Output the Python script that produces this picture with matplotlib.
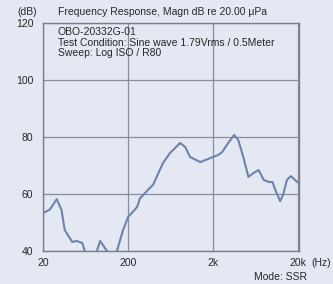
import matplotlib
matplotlib.use("Agg")
import matplotlib.pyplot as plt
import numpy as np

freq_hz = [20, 24, 29, 33, 36, 44, 50, 58, 62, 75, 86, 94, 113, 130, 148, 175, 200,
           255, 277, 361, 394, 516, 624, 820, 940, 1073, 1411, 1855, 2000, 2305,
           2554, 3010, 3537, 3950, 4534, 5210, 5987, 6880, 7906, 9085, 10000,
           10800, 12290, 13300, 14770, 16400, 19600, 20500]
level_db = [53.3, 54.5, 58.2, 54.4, 47.4, 43.2, 43.5, 42.8, 40.0, 37.0, 40.0, 43.5, 40.0, 37.0, 40.0, 47.4, 51.9,
            55.4, 58.5, 62.1, 63.2, 70.9, 74.4, 77.9, 76.5, 73.0, 71.2, 72.6, 73.0, 73.7,
            74.7, 77.9, 80.7, 79.0, 73.0, 66.0, 67.4, 68.4, 64.9, 64.2, 64.2,
            61.4, 57.5, 59.6, 64.9, 66.3, 64.2, 63.9]

y_ticks = [40, 60, 80, 100, 120]
x_ticks = [20, 200, 2000, 20000]
x_tick_labels = ["20", "200", "2k", "20k"]

title = "Frequency Response, Magn dB re 20.00 \u03bcPa"
info_lines = ["OBO-20332G-01",
              "Test Condition: Sine wave 1.79Vrms / 0.5Meter",
              "Sweep: Log ISO / R80"]

bg = "#e4e8f2"
plt.rcParams["font.family"] = ["Liberation Sans", "DejaVu Sans"]

W, H = 333, 284
fig = plt.figure(figsize=(W / 100, H / 100), dpi=100, facecolor=bg)
ax = fig.add_axes([43 / W, 1 - 251 / H, (299 - 43) / W, (251 - 23) / H], facecolor=bg)

ax.plot(freq_hz, level_db, color="#6d84aa", lw=1.5, solid_joinstyle="round")
ax.set_xscale("log")
ax.set_xlim(20, 20500)
ax.set_ylim(40, 120)
ax.set_xticks(x_ticks)
ax.set_xticklabels(x_tick_labels)
ax.set_yticks(y_ticks)
ax.xaxis.set_minor_locator(matplotlib.ticker.NullLocator())
tc = "#262626"
ax.tick_params(length=0, labelsize=7.5, colors=tc, pad=5)
ax.tick_params(axis="y", pad=7)
ax.grid(True, color="#878d9a", lw=0.9)
for s in ax.spines.values():
    s.set_color("#777d8a")
    s.set_linewidth(1.0)

fs = 7.5
fig.text(17 / W, 1 - 12 / H, "(dB)", fontsize=fs, color=tc, va="center", ha="left")
fig.text(58 / W, 1 - 12 / H, title, fontsize=fs, color=tc, va="center", ha="left")
for i, line in enumerate(info_lines):
    fig.text(58 / W, 1 - (32 + i * 10.5) / H, line, fontsize=fs, color=tc, va="center", ha="left")
fig.text(311 / W, 1 - 263 / H, "(Hz)", fontsize=fs, color=tc, va="center", ha="left")
fig.text(307 / W, 1 - 277 / H, "Mode: SSR", fontsize=fs, color=tc, va="center", ha="right")

fig.savefig("out.png", dpi=100, facecolor=bg)
